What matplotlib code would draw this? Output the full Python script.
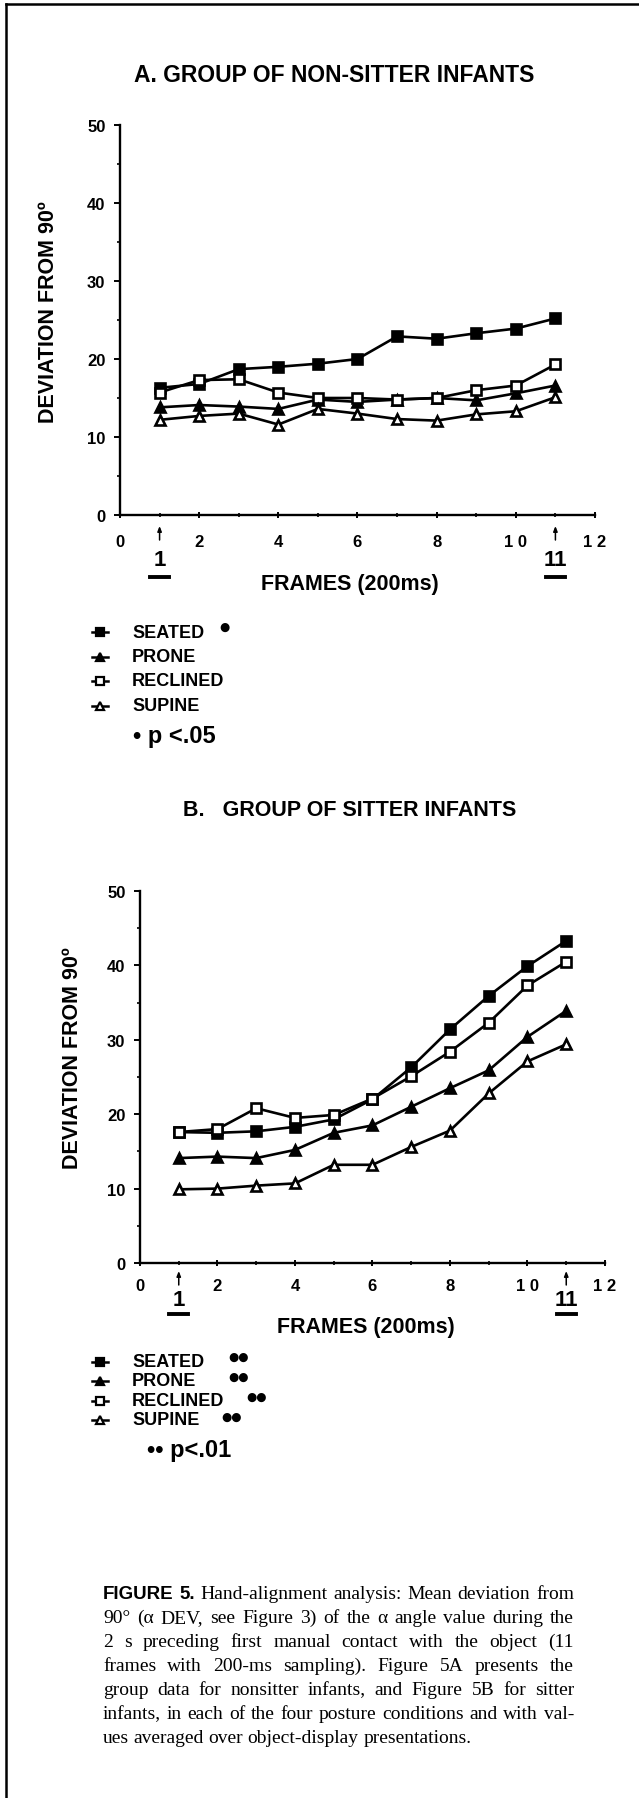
"""Figure 5: hand-alignment deviation for non-sitter and sitter infants"""

import numpy as np
import matplotlib
matplotlib.use("Agg")
import matplotlib.pyplot as plt
from matplotlib.lines import Line2D
from matplotlib.transforms import offset_copy

W, H = 639, 1799

FRAMES = np.arange(1, 12)
POSTURES = ["SEATED", "PRONE", "RECLINED", "SUPINE"]

# A. non-sitter infants
A_SEATED = [16.3, 16.8, 18.7, 19.0, 19.4, 20.0, 22.9, 22.6, 23.3, 23.9, 25.2]
A_PRONE = [13.8, 14.1, 13.9, 13.6, 14.8, 14.5, 14.8, 15.0, 14.7, 15.6, 16.6]
A_RECLINED = [15.7, 17.3, 17.4, 15.7, 15.0, 15.0, 14.8, 15.0, 16.0, 16.6, 19.3]
A_SUPINE = [12.2, 12.7, 13.0, 11.6, 13.6, 13.0, 12.3, 12.1, 12.9, 13.3, 15.1]

# B. sitter infants
B_SEATED = [17.6, 17.5, 17.7, 18.3, 19.3, 22.0, 26.3, 31.4, 35.9, 39.9, 43.3]
B_PRONE = [14.1, 14.3, 14.1, 15.2, 17.5, 18.5, 21.0, 23.5, 25.9, 30.4, 33.9]
B_RECLINED = [17.6, 18.0, 20.8, 19.5, 19.9, 22.1, 25.1, 28.4, 32.3, 37.3, 40.5]
B_SUPINE = [9.9, 10.0, 10.4, 10.7, 13.2, 13.2, 15.6, 17.8, 22.8, 27.1, 29.4]

X_TICKS = [0, 2, 4, 6, 8, 10, 12]
X_TICK_LABELS = ["0", "2", "4", "6", "8", "1 0", "1 2"]
Y_TICKS = [0, 10, 20, 30, 40, 50]

CAPTION = [
    "FIGURE 5. Hand-alignment analysis: Mean deviation from",
    "90° (α DEV, see Figure 3) of the α angle value during the",
    "2 s preceding first manual contact with the object (11",
    "frames with 200-ms sampling). Figure 5A presents the",
    "group data for nonsitter infants, and Figure 5B for sitter",
    "infants, in each of the four posture conditions and with val-",
    "ues averaged over object-display presentations.",
]

STYLES = {
    "SEATED": dict(marker="s", mfc="black"),
    "PRONE": dict(marker="^", mfc="black"),
    "RECLINED": dict(marker="s", mfc="white"),
    "SUPINE": dict(marker="^", mfc="white"),
}

plt.rcParams["font.family"] = ["Liberation Sans", "DejaVu Sans"]

fig = plt.figure(figsize=(W / 100, H / 100), dpi=100)


def fx(x):
    return x / W


def fy(y):
    return 1 - y / H


def panel(left, top, right, bottom, series, xpad):
    ax = fig.add_axes([fx(left), fy(bottom), (right - left) / W, (bottom - top) / H])
    for name, vals in zip(POSTURES, series):
        ax.plot(FRAMES, vals, color="black", lw=1.9, ms=7, mec="black", mew=1.9,
                clip_on=False, **STYLES[name])
    ax.set_xlim(0, 12)
    ax.set_ylim(0, 50)
    ax.set_xticks(X_TICKS)
    ax.set_xticklabels(X_TICK_LABELS)
    ax.set_xticks(range(1, 12, 2), minor=True)
    ax.set_yticks(Y_TICKS)
    ax.set_yticks(range(5, 50, 10), minor=True)
    ax.tick_params(axis="x", which="major", direction="inout", length=5, width=1.4, pad=xpad)
    ax.tick_params(axis="x", which="minor", direction="inout", length=3, width=1.2)
    ax.tick_params(axis="y", which="major", direction="out", length=4.5, width=1.4, pad=6)
    ax.tick_params(axis="y", which="minor", direction="out", length=2.5, width=1.2)
    for lab in ax.get_xticklabels() + ax.get_yticklabels():
        lab.set_fontsize(12)
        lab.set_fontweight("bold")
    for side in ["top", "right"]:
        ax.spines[side].set_visible(False)
    for side in ["left", "bottom"]:
        ax.spines[side].set_linewidth(1.7)
    return ax


def frame_marks(ax, arrow_top, arrow_bot, num_y, bar_y):
    for x, txt in [(1, "1"), (11, "11")]:
        ax.annotate("", xy=(x, 0), xytext=(x, 0),
                    xycoords=offset_copy(ax.transData, fig=fig, y=-arrow_top, units="dots"),
                    textcoords=offset_copy(ax.transData, fig=fig, y=-arrow_bot, units="dots"),
                    arrowprops=dict(arrowstyle="-|>,head_length=0.3,head_width=0.12",
                                    lw=1.1, color="black", shrinkA=0, shrinkB=0),
                    annotation_clip=False)
        ax.annotate(txt, xy=(x, 0), xytext=(0, -num_y), textcoords="offset pixels",
                    ha="center", va="center", fontsize=16, fontweight="bold",
                    annotation_clip=False)
        ax.plot([x - 0.25, x + 0.25], [0, 0], color="black", lw=2.8, clip_on=False,
                transform=offset_copy(ax.transData, fig=fig, y=-bar_y, units="dots"))


def legend(rows, bullets, pvalue, p_xy):
    for y, name in zip(rows, POSTURES):
        fig.add_artist(Line2D([fx(92), fx(108)], [fy(y), fy(y)], color="black", lw=1.8))
        fig.add_artist(Line2D([fx(100)], [fy(y)], color="black", ms=6, mec="black",
                              mew=1.6, **STYLES[name]))
        fig.text(fx(132), fy(y), name, va="center", fontsize=13, fontweight="bold")
    for (x, y), txt in bullets:
        fig.text(fx(x), fy(y), txt, va="center", fontsize=8.5, family="DejaVu Sans")
    fig.text(fx(p_xy[0]), fy(p_xy[1]), pvalue, va="center", fontsize=17,
             fontweight="bold")


def caption(lines, left, right, top, step, size):
    r = fig.canvas.get_renderer()
    for i, line in enumerate(lines):
        y = fy(top + i * step + 5)
        words = line.split(" ")
        texts = []
        for j, w in enumerate(words):
            if i == 0 and j < 2:
                t = fig.text(0, y, w, fontsize=size - 0.5, fontweight="bold",
                             family="Liberation Sans", va="baseline")
            else:
                t = fig.text(0, y, w, fontsize=size, family="Liberation Serif",
                             va="baseline")
            texts.append(t)
        widths = [t.get_window_extent(r).width for t in texts]
        if i == len(lines) - 1:
            gap = 4.5
        else:
            gap = (right - left - sum(widths)) / (len(words) - 1)
        x = left
        for t, w in zip(texts, widths):
            t.set_x(fx(x))
            x += w + gap


# page frame (top and left edges)
fig.add_artist(Line2D([fx(6), fx(W)], [fy(5), fy(5)], color="black", lw=1.8))
fig.add_artist(Line2D([fx(6), fx(6)], [fy(5), fy(H)], color="black", lw=1.8))

# panel A
ax_a = panel(120, 126, 595, 516, [A_SEATED, A_PRONE, A_RECLINED, A_SUPINE], 11)
frame_marks(ax_a, 11, 25, 45, 62)
fig.text(fx(334), fy(75), "A. GROUP OF NON-SITTER INFANTS", ha="center", va="center",
         fontsize=16.5, fontweight="bold")
fig.text(fx(350), fy(585), "FRAMES (200ms)", ha="center", va="center",
         fontsize=15.5, fontweight="bold")
fig.text(fx(49), fy(312), "DEVIATION FROM 90º", ha="center", va="center",
         rotation=90, fontsize=15.5, fontweight="bold")
legend([633, 658, 682, 707], [((219, 627), "●")], "• p <.05", (133, 737))

# panel B
ax_b = panel(140, 892, 605, 1264, [B_SEATED, B_PRONE, B_RECLINED, B_SUPINE], 8)
frame_marks(ax_b, 8, 22, 37, 51)
fig.text(fx(350), fy(811), "B.   GROUP OF SITTER INFANTS", ha="center", va="center",
         fontsize=15.5, fontweight="bold")
fig.text(fx(366), fy(1327), "FRAMES (200ms)", ha="center", va="center",
         fontsize=15.5, fontweight="bold")
fig.text(fx(72), fy(1058), "DEVIATION FROM 90º", ha="center", va="center",
         rotation=90, fontsize=15.5, fontweight="bold")
legend([1363, 1382, 1402, 1421],
       [((228, 1357), "●●"), ((228, 1377), "●●"), ((246, 1397), "●●"), ((221, 1417), "●●")],
       "•• p<.01", (147, 1451))

caption(CAPTION, 103, 574, 1594, 24, 14)

fig.savefig("out.png", dpi=100)
